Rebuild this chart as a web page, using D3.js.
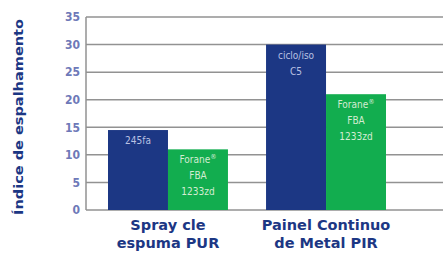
<!DOCTYPE html>
<html>
<head>
<meta charset="utf-8">
<script src="https://cdn.jsdelivr.net/npm/d3@7"></script>
<style>
  body { margin: 0; background: #fff; }
  svg { display: block; }
</style>
</head>
<body>
<div id="chart"></div>
<script>
// data
var categories = [["Spray cle", "espuma PUR"], ["Painel Continuo", "de Metal PIR"]];
var series = ["ref", "forane"];
var refValues = [14.5, 30];
var foraneValues = [11, 21];
var refLabels = [["245fa"], ["ciclo/iso", "C5"]];
var foraneLabels = [["Forane®", "FBA", "1233zd"], ["Forane®", "FBA", "1233zd"]];
var yTicks = [0, 5, 10, 15, 20, 25, 30, 35];
var yTitle = "Índice de espalhamento";

var W = 443, H = 253;
var margin = {top: 17, right: 0, bottom: 43, left: 86},
    width = W - margin.left - margin.right,
    height = H - margin.top - margin.bottom;

var navy = "#1c3784", green = "#12ad4f";

var svg = d3.select("#chart").append("svg")
    .attr("width", W)
    .attr("height", H);

var g = svg.append("g")
    .attr("transform", "translate(" + margin.left + "," + margin.top + ")");

// scales
var x0 = d3.scaleBand()
    .domain(d3.range(categories.length))
    .range([22, 300])
    .paddingInner(0.241);

var x1 = d3.scaleBand()
    .domain(series)
    .range([0, x0.bandwidth()]);

var y = d3.scaleLinear()
    .domain([0, 35])
    .range([height, 0]);

// grid lines
g.append("g").selectAll("line")
    .data(yTicks)
    .enter().append("line")
    .attr("x1", 0)
    .attr("x2", width)
    .attr("y1", function(d) { return y(d); })
    .attr("y2", function(d) { return y(d); })
    .attr("stroke", "#929292")
    .attr("stroke-width", 1.5);

// left border
g.append("line")
    .attr("x1", 0).attr("x2", 0)
    .attr("y1", y(35)).attr("y2", y(0))
    .attr("stroke", "#929292")
    .attr("stroke-width", 1.5);

// y axis labels
var yAxis = g.append("g")
    .call(d3.axisLeft(y).tickValues(yTicks).tickSize(0).tickPadding(6));
yAxis.select(".domain").remove();
yAxis.selectAll("text")
    .attr("fill", "#6e79b8")
    .style("font-family", "'DejaVu Sans Condensed', 'DejaVu Sans', sans-serif")
    .style("font-weight", "bold")
    .style("font-size", "12px");

// bars
var rows = categories.map(function(c, i) {
    return [
        {key: "ref", value: refValues[i], labels: refLabels[i]},
        {key: "forane", value: foraneValues[i], labels: foraneLabels[i]}
    ];
});

var groups = g.append("g").selectAll("g")
    .data(rows)
    .enter().append("g")
    .attr("transform", function(d, i) { return "translate(" + x0(i) + ",0)"; });

var bars = groups.selectAll("g")
    .data(function(d) { return d; })
    .enter().append("g");

bars.append("rect")
    .attr("x", function(d) { return x1(d.key); })
    .attr("y", function(d) { return y(d.value); })
    .attr("width", x1.bandwidth())
    .attr("height", function(d) { return height - y(d.value); })
    .attr("fill", function(d) { return d.key == "ref" ? navy : green; });

// labels inside bars (® as superscript)
bars.each(function(d) {
    var cx = x1(d.key) + x1.bandwidth() / 2;
    d.labels.forEach(function(l, j) {
        var t = d3.select(this).append("text")
            .attr("x", cx)
            .attr("y", y(d.value) + 14 + j * 16)
            .attr("text-anchor", "middle")
            .attr("fill", d.key == "ref" ? "#b9c1e2" : "#d3ecd2")
            .style("font-family", "'DejaVu Sans Condensed', sans-serif")
            .style("font-size", "10px");
        var parts = l.split("®");
        t.append("tspan").text(parts[0]);
        if (parts.length > 1) {
            t.append("tspan")
                .attr("dy", -4)
                .style("font-size", "7px")
                .text("®");
        }
    }, this);
});

// category labels
groups.append("text")
    .attr("text-anchor", "middle")
    .attr("fill", navy)
    .style("font-family", "'DejaVu Sans', sans-serif")
    .style("font-weight", "bold")
    .style("font-size", "14.5px")
    .each(function(d, i) {
        var t = d3.select(this);
        categories[i].forEach(function(l, j) {
            t.append("tspan")
                .attr("x", x0.bandwidth() / 2)
                .attr("y", height + 20 + j * 18)
                .text(l);
        });
    });

// y title
svg.append("text")
    .attr("transform", "translate(23," + (margin.top + 100) + ") rotate(-90)")
    .attr("text-anchor", "middle")
    .attr("fill", navy)
    .attr("textLength", 196)
    .attr("lengthAdjust", "spacingAndGlyphs")
    .style("font-family", "'DejaVu Sans', sans-serif")
    .style("font-weight", "bold")
    .style("font-size", "13px")
    .text(yTitle);
</script>
</body>
</html>
